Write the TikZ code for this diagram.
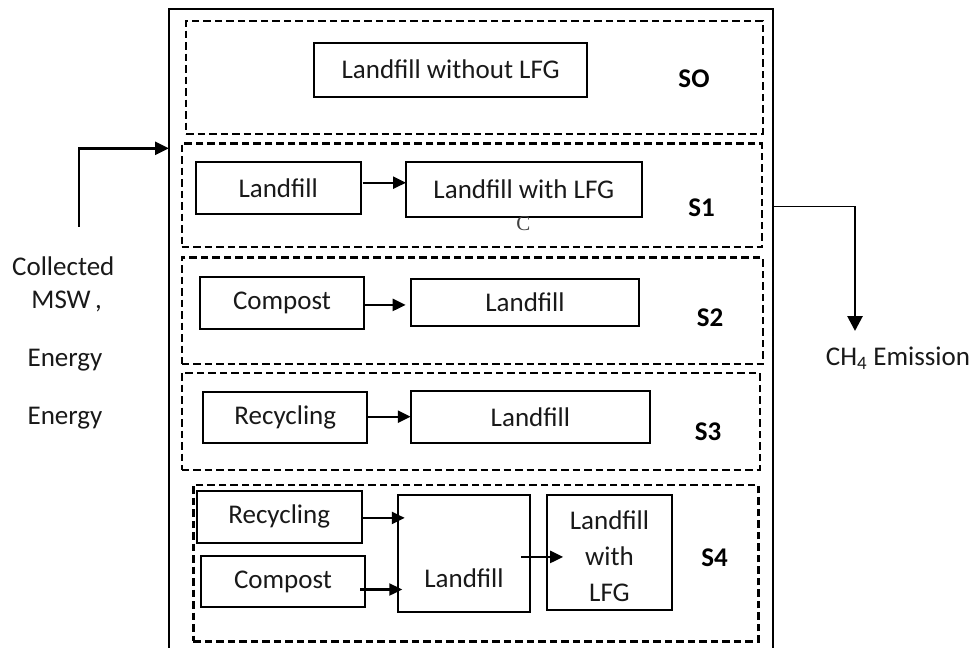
\documentclass[tikz,border=0pt]{standalone}
\usepackage{fontspec}
\setmainfont{Carlito}
\newfontfamily\serifC{Liberation Serif}
\usetikzlibrary{arrows.meta}
\begin{document}
\begin{tikzpicture}[x=1pt,y=-1pt,
  every node/.style={inner sep=0pt, outer sep=0pt, font=\fontsize{27}{32}\selectfont, text=black!90},
  box/.style={draw, line width=2pt},
  scen/.style={draw, line width=2.4pt, dash pattern=on 7.5pt off 4pt},
  lbl/.style={font=\fontsize{27}{32}\selectfont\bfseries, text=black},
  arr/.style={line width=2.4pt, -{Triangle[length=13pt,width=12pt]}},
  bigarr/.style={line width=2.8pt, -{Triangle[length=15pt,width=15pt]}},
  thinline/.style={line width=1.2pt}
]
\useasboundingbox (0,0) rectangle (972,648);
\fill[white] (0,0) rectangle (972,648);

% outer frame (its bottom edge lies below the page)
\node[draw, line width=2.2pt, minimum width=604.3pt, minimum height=650.7pt] (outer) at (471.15,334.65) {};

% scenario frames
\node[scen, minimum width=576.7pt, minimum height=113.3pt] (s0) at (474.35,77.35) {};
\node[scen, minimum width=580pt, minimum height=103.7pt] (s1) at (471.7,195.15) {};
\node[scen, minimum width=581pt, minimum height=106.7pt] (s2) at (472.2,310.65) {};
\node[scen, minimum width=578pt, minimum height=97pt] (s3) at (470.7,421.2) {};
\node[scen, minimum width=565pt, minimum height=156.6pt] (s4) at (475.8,563) {};

\node[lbl] (l0) at (694,79) {SO};
\node[lbl] (l1) at (701.5,208) {S1};
\node[lbl] (l2) at (710,318) {S2};
\node[lbl] (l3) at (708,432) {S3};
\node[lbl] (l4) at (714.5,558) {S4};

% S0
\node[box, minimum width=273.3pt, minimum height=54pt] (wo) at (450.7,69.7) {Landfill without LFG};

% S1
\node[box, minimum width=165pt, minimum height=51.7pt] (lf1) at (278.2,188.2) {Landfill};
\node[box, minimum width=235.7pt, minimum height=54.4pt] (lfg1) at (523.9,189.5) {Landfill with LFG};
\node[font=\serifC\fontsize{21}{24}\selectfont, text=black!75] (cc) at (523.3,224) {C};

% S2
\node[box, minimum width=164pt, minimum height=52.3pt] (co2) at (282,302.9) {Compost};
\node[box, minimum width=228.6pt, minimum height=46.7pt] (lf2) at (525,302.4) {Landfill};

% S3
\node[box, minimum width=164pt, minimum height=51.3pt] (re3) at (285.3,417.4) {Recycling};
\node[box, minimum width=239.3pt, minimum height=52.3pt] (lf3) at (530.4,416.9) {Landfill};

% S4
\node[box, minimum width=165pt, minimum height=52.3pt] (re4) at (279.2,516.9) {Recycling};
\node[box, minimum width=164pt, minimum height=51.6pt] (co4) at (283,581.5) {Compost};
\node[box, minimum width=132.3pt, minimum height=117.3pt] (lf4) at (463.9,553.4) {};
\node (lf4t) at (464,578) {Landfill};
\node[box, minimum width=125.6pt, minimum height=115.6pt] (lfg4) at (609.5,552.5) {};
\node[align=center, font=\fontsize{27}{36}\selectfont] (lfg4t) at (609.5,556) {Landfill\\with\\LFG};

% arrows inside scenarios
\draw[arr] ([xshift=2pt,yshift=5.5pt]lf1.east) coordinate (a1) -- (a1 -| lfg1.west);
\draw[arr] ([xshift=1pt,yshift=-2pt]co2.east) coordinate (a2) -- ([xshift=-5pt]a2 -| lf2.west);
\draw[arr] ([xshift=1pt,yshift=0.7pt]re3.east) coordinate (a3) -- (a3 -| lf3.west);
\draw[arr] ([xshift=1pt,yshift=-1pt]re4.east) coordinate (a4) -- ([xshift=7pt]a4 -| lf4.west);
\draw[arr] ([xshift=-5pt,yshift=-8pt]co4.east) coordinate (a5) -- ([xshift=4.5pt]a5 -| lf4.west);
\draw[arr] ([xshift=-9pt,yshift=-3.5pt]lf4.east) coordinate (a6) -- ([xshift=16.5pt]a6 -| lfg4.west);

% left side: input
\node (col) at (63.3,266.7) {Collected};
\node (msw) at (66.7,301.7) {MSW\,,};
\node (en1) at (65,360) {Energy};
\node (en2) at (65,418.3) {Energy};
\coordinate (inS) at (79,226.7);
\coordinate (inE) at (169,148.3);
\draw[line width=2.8pt, -{Triangle[length=14pt,width=13pt]}] (inS) |- (inE -| outer.west);

% right side: output
\node (ch4) at (898,358) {CH\textsubscript{4} Emission};
\coordinate (outK) at (855,206.7);
\coordinate (outT) at (855,331);
\draw[thinline] (outer.east |- outK) -- (outK);
\draw[bigarr] ([yshift=0.6pt]outK) -- (outT);
\end{tikzpicture}
\end{document}
